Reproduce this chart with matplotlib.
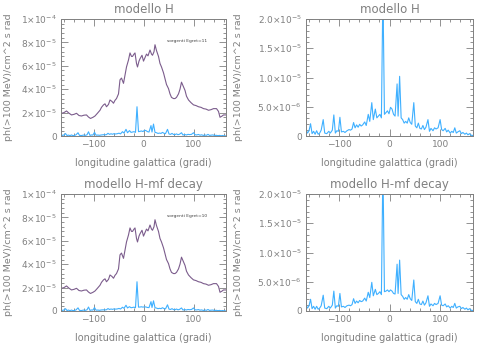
import matplotlib
matplotlib.use("Agg")
import matplotlib.pyplot as plt
from matplotlib.ticker import AutoMinorLocator, FixedLocator
import numpy as np

# diffuse model (same in both rows), units 1e-5
lon_diff = [-164, -159, -154, -149, -144, -139, -134, -129, -124, -119, -114, -110, -106, -101,
            -97, -92, -87, -84, -80, -77, -74, -70, -67, -63, -60, -57, -54, -50,
            -47, -44, -40, -37, -34, -30, -27, -24, -22, -19, -17, -14, -12, -9, -7, -3, 0, 3,
            6, 9, 13, 16, 18, 21, 23, 26, 30, 33, 36, 40, 43, 46, 50, 53, 56,
            60, 63, 66, 70, 73, 76, 80, 83, 86, 90, 95, 100, 105, 110, 115, 120, 125, 130, 135,
            140, 146, 150, 153, 157, 160, 166]
diff_val = [1.94, 2.00, 2.14, 1.95, 1.80, 1.85, 1.94, 1.75, 1.71, 1.78, 1.80, 1.62, 1.50, 1.60,
            1.71, 1.95, 2.20, 2.45, 2.66, 2.75, 2.50, 2.70, 3.08, 2.95, 2.80, 3.05, 3.20, 3.60,
            4.80, 4.95, 4.50, 5.20, 5.90, 6.50, 7.10, 6.80, 6.80, 7.00, 7.10, 6.20, 5.90, 6.40, 6.60, 6.90, 6.40, 6.70,
            7.00, 6.85, 7.35, 7.00, 6.90, 7.20, 7.80, 7.30, 6.80, 6.20, 5.90, 5.40, 4.90, 4.40, 4.05, 3.60, 3.30,
            3.20, 3.20, 3.30, 3.60, 4.00, 4.60, 4.20, 3.90, 3.40, 3.08, 2.85, 2.66, 2.60, 2.50, 2.45, 2.34, 2.30, 2.20, 2.25,
            2.34, 2.34, 2.10, 1.60, 1.70, 1.80, 1.80]

# point sources, units 1e-6
lon_src = [-165, -162, -159, -156, -153, -150, -147, -144, -141, -138, -135, -131, -128, -124,
           -120, -117, -113, -110, -107, -104, -101, -98, -95, -91, -88, -84, -80, -77, -74,
           -71, -68, -65, -62, -59, -56, -53, -49, -46, -42, -39, -35, -32, -28, -25, -22,
           -19, -16, -13, -10, -7, -4, -1, 2, 5, 8, 11, 15, 17, 20, 23, 26, 29, 32, 35, 38,
           41, 44, 48, 51, 54, 57, 60, 63, 66, 69, 72, 76, 79, 82, 86, 89, 92, 96, 100, 103,
           106, 110, 113, 116, 120, 123, 126, 129, 132, 135, 139, 142, 145, 149, 152, 155,
           158, 162, 165]
src_h = [1.1, 0.5, 0.9, 2.1, 0.4, 0.8, 0.3, 0.9, 0.3, 0.5, 1.0, 2.8, 0.5, 0.4,
         0.8, 0.5, 1.0, 3.6, 0.5, 0.9, 0.8, 3.2, 0.7, 0.8, 0.6, 0.9, 1.1, 1.0, 1.2,
         2.3, 1.4, 1.9, 1.5, 2.0, 1.7, 1.9, 2.4, 1.8, 3.7, 2.5, 5.7, 2.8, 4.6, 3.1, 3.4,
         3.7, 3.1, 25.0, 3.7, 4.0, 4.3, 3.8, 4.9, 4.6, 3.7, 3.4, 8.9, 3.4, 10.2, 3.1, 2.8, 2.2, 2.5, 2.2, 3.1,
         2.3, 2.0, 5.7, 1.7, 1.4, 2.2, 1.3, 1.2, 1.8, 1.1, 1.5, 2.8, 0.8, 1.3, 0.9, 1.4, 1.2, 1.4, 2.8, 1.1,
         0.9, 1.3, 0.7, 1.0, 0.5, 0.8, 0.6, 1.4, 0.5, 0.7, 0.9, 0.4, 0.6, 0.3, 0.5, 0.2,
         0.4, 0.1, 0.1]
src_mf = [1.0, 0.5, 0.9, 2.0, 0.4, 0.8, 0.3, 0.8, 0.3, 0.5, 0.9, 2.7, 0.5, 0.4,
          0.8, 0.5, 1.0, 3.4, 0.5, 0.9, 0.8, 3.0, 0.7, 0.8, 0.6, 0.9, 1.0, 0.9, 1.1,
          2.1, 1.3, 1.7, 1.4, 1.8, 1.6, 1.7, 2.2, 1.7, 3.2, 2.3, 4.9, 2.6, 3.7, 2.8, 3.0,
          3.3, 2.8, 25.0, 3.3, 3.4, 3.6, 3.3, 3.6, 3.4, 3.0, 2.9, 8.0, 3.0, 8.7, 2.8, 2.5, 2.0, 2.3, 2.0, 2.8,
          2.1, 1.8, 5.3, 1.6, 1.3, 2.0, 1.2, 1.1, 1.7, 1.0, 1.4, 2.6, 0.8, 1.2, 0.9, 1.3, 1.1, 1.3, 2.6, 1.0,
          0.9, 1.2, 0.7, 0.9, 0.5, 0.8, 0.6, 1.3, 0.5, 0.7, 0.8, 0.4, 0.6, 0.3, 0.5, 0.2,
          0.4, 0.1, 0.1]

titles = ["modello H", "modello H-mf decay"]
notes = ["sorgenti Egret=11", "sorgenti Egret=10"]
left_ticks = [0, 2e-5, 4e-5, 6e-5, 8e-5, 1e-4]
left_labels = ["0", r"$2{\times}10^{-5}$", r"$4{\times}10^{-5}$", r"$6{\times}10^{-5}$",
               r"$8{\times}10^{-5}$", r"$1{\times}10^{-4}$"]
right_ticks = [0, 5e-6, 1e-5, 1.5e-5, 2e-5]
right_labels = ["0", r"$5.0{\times}10^{-6}$", r"$1.0{\times}10^{-5}$", r"$1.5{\times}10^{-5}$",
                r"$2.0{\times}10^{-5}$"]

GRAY = "#808080"
PURPLE = "#7b5c8c"
BLUE = "#3fb0ff"
plt.rcParams['mathtext.fontset'] = 'dejavusans'

fig = plt.figure(figsize=(4.91, 3.5), dpi=100)
W, H = 491.0, 350.0


def style(ax, ticks, labels, ylab_x):
    ax.set_xlim(-165, 165)
    ax.set_xticks([-100, 0, 100])
    ax.set_xticklabels(["\u2212100", "0", "100"])
    ax.xaxis.set_minor_locator(AutoMinorLocator(5))
    ax.yaxis.set_major_locator(FixedLocator(ticks))
    ax.set_yticklabels(labels)
    ax.yaxis.set_minor_locator(AutoMinorLocator(5))
    ax.tick_params(which="both", direction="in", top=True, right=True, colors=GRAY,
                   labelsize=6.5, width=0.6, labelcolor=GRAY)
    ax.tick_params(which="major", length=5, pad=3)
    ax.tick_params(which="minor", length=2.5)
    for s in ax.spines.values():
        s.set_color(GRAY)
        s.set_linewidth(0.7)
    ax.set_xlabel("longitudine galattica (gradi)", fontsize=7, color=GRAY)
    ax.xaxis.set_label_coords(0.5, -0.19)
    ax.set_ylabel("ph(>100 MeV)/cm^2 s rad", fontsize=6.8, color=GRAY)
    ax.yaxis.set_label_coords(ylab_x, 0.5)


rows = [(19, src_h), (194, src_mf)]
for i, (top, src) in enumerate(rows):
    b = (H - top - 117) / H
    axl = fig.add_axes([61 / W, b, 165 / W, 117 / H])
    axl.plot(lon_diff, np.array(diff_val) * 1e-5, color=PURPLE, lw=0.8)
    axl.plot(lon_src, np.array(src) * 1e-6, color=BLUE, lw=0.8)
    axl.set_ylim(0, 1e-4)
    style(axl, left_ticks, left_labels, -0.29)
    axl.set_title(titles[i], fontsize=8.5, color=GRAY, pad=4)
    axl.text(0.64, 0.80, notes[i], transform=axl.transAxes, fontsize=3.2, color="#404040")

    axr = fig.add_axes([306 / W, b, 167 / W, 117 / H])
    axr.plot(lon_src, np.array(src) * 1e-6, color=BLUE, lw=0.8)
    axr.set_ylim(0, 2e-5)
    style(axr, right_ticks, right_labels, -0.38)
    axr.set_title(titles[i], fontsize=8.5, color=GRAY, pad=4)

fig.savefig("out.png", dpi=100)
